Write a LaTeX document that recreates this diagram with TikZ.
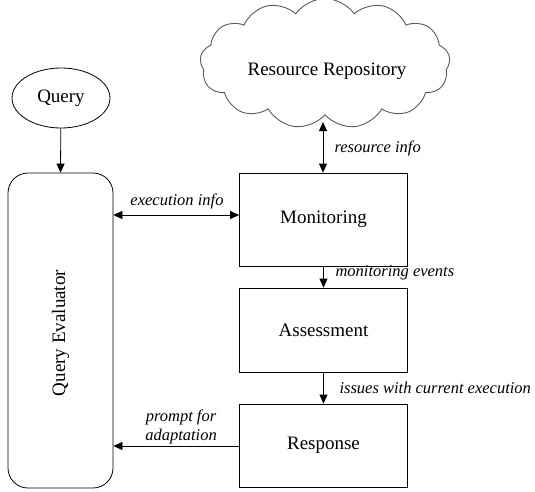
\documentclass[tikz,border=0pt]{standalone}
\usepackage{fontspec}
\setmainfont{Liberation Serif}
\usetikzlibrary{arrows.meta,shapes.geometric,shapes.symbols}
\begin{document}
\begin{tikzpicture}[x=1pt,y=-1pt,
  box/.style={draw,line width=0.8pt,minimum width=168pt,font=\fontsize{19}{21}\selectfont},
  lbl/.style={font=\fontsize{16.5}{19}\selectfont\itshape},
  arr/.style={line width=0.8pt,-{Triangle[length=9pt,width=8pt]}},
  darr/.style={line width=0.8pt,{Triangle[length=9pt,width=8pt]}-{Triangle[length=9pt,width=8pt]}}]
\useasboundingbox (0,0) rectangle (535,491);
\node[cloud,draw=black!65,line width=0.9pt,cloud puffs=13,cloud puff arc=110,aspect=2.1,
  minimum width=250pt,minimum height=130pt,inner sep=0pt] (cloud) at (325,63.5) {};
\node[font=\fontsize{19}{21}\selectfont] (rr) at (327,71) {Resource Repository};
\node[ellipse,draw,line width=0.8pt,minimum width=98pt,minimum height=60pt,inner sep=0pt,
  font=\fontsize{19}{21}\selectfont] (query) at (61,98) {Query};
\node[draw,rounded corners=20pt,line width=0.8pt,minimum width=105pt,minimum height=315pt,inner sep=0pt] (qe) at (60.5,330.5) {};
\node[rotate=90,font=\fontsize{19}{21}\selectfont] (qet) at (60.5,333) {Query Evaluator};
\node[box,minimum height=93pt] (mon) at (323.5,219.5) {Monitoring};
\node[box,minimum height=84pt] (ass) at (323.5,330) {Assessment};
\node[box,minimum height=83pt] (resp) at (323.5,445.5) {Response};
\draw[arr] (query) -- (qe.north);
\coordinate (cs) at (323,122);
\draw[darr] (cs) -- (cs |- mon.north);
\draw[darr] (qe.east |- 0,215) coordinate (qa) -- (mon.west |- qa);
\draw[arr] (mon) -- (ass);
\draw[arr] (ass) -- (resp);
\draw[arr] (resp.west |- 0,446) coordinate (ra) -- (qe.east |- ra);
\node[lbl,anchor=west] (l1) at (331,148) {resource info};
\node[lbl] (l2) at (177,201) {execution info};
\node[lbl,anchor=west] (l3) at (332,273) {monitoring events};
\node[lbl,anchor=west] (l4) at (336,388) {issues with current execution};
\node[lbl,align=center] (l5) at (181,427) {prompt for\\adaptation};
\end{tikzpicture}
\end{document}
